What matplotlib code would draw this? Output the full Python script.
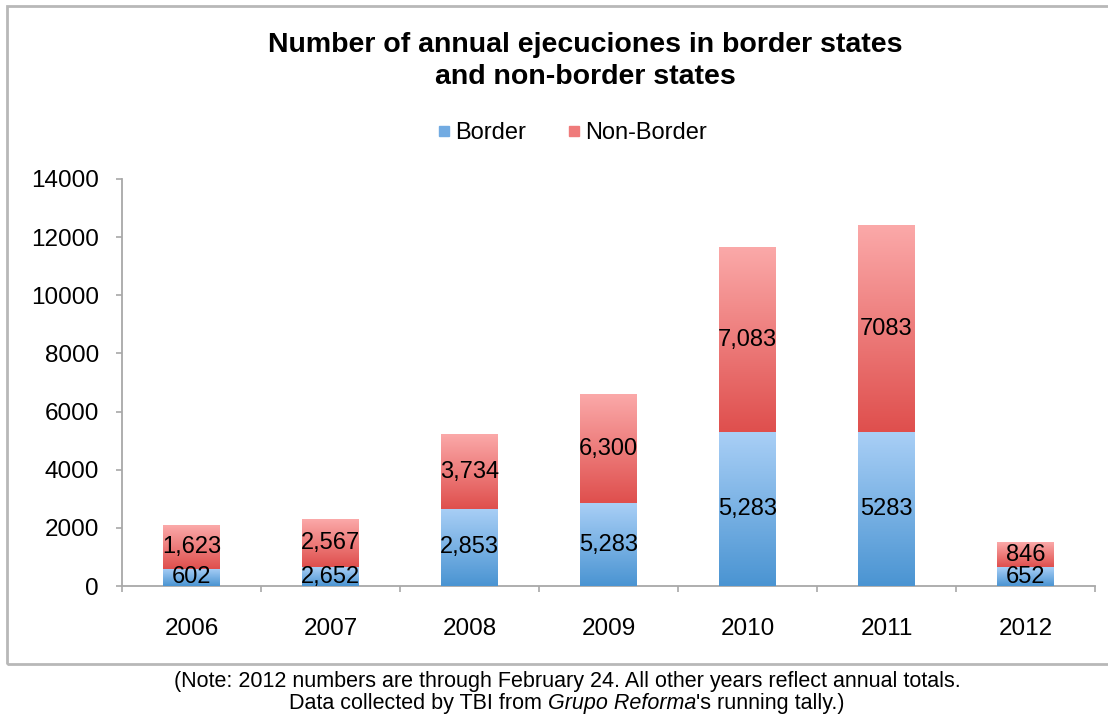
import numpy as np
import matplotlib
matplotlib.use("Agg")
import matplotlib.pyplot as plt
from matplotlib.colors import LinearSegmentedColormap
from matplotlib.lines import Line2D
from matplotlib.patches import Rectangle

years = ["2006", "2007", "2008", "2009", "2010", "2011", "2012"]
# bar heights as drawn in the original (they do not all agree with the printed labels)
border = [602, 652, 2652, 2853, 5283, 5283, 652]
non_border = [1510, 1623, 2567, 3734, 6330, 7110, 846]
# labels as printed on the original
border_labels = ["602", "2,652", "2,853", "5,283", "5,283", "5283", "652"]
non_border_labels = ["1,623", "2,567", "3,734", "6,300", "7,083", "7083", "846"]

plt.rcParams["font.family"] = ["Liberation Sans", "DejaVu Sans"]

fig = plt.figure(figsize=(11.08, 7.15), dpi=100)
ax = fig.add_axes([0.1101, 0.1804, 0.8782, 0.5693])

blue_cm = LinearSegmentedColormap.from_list("b", ["#4a94d2", "#a9cff6"])
red_cm = LinearSegmentedColormap.from_list("r", ["#df4f4d", "#fba9a9"])
grad = np.linspace(0, 1, 256).reshape(-1, 1)

x = np.arange(len(years))
w = 0.41
b1 = ax.bar(x, border, w, color="#7ab2e6", zorder=2)
b2 = ax.bar(x, non_border, w, bottom=border, color="#ee8080", zorder=2)

for bars, cm in ((b1, blue_cm), (b2, red_cm)):
    for r in bars:
        x0, y0 = r.get_xy()
        ax.imshow(grad, extent=[x0, x0 + r.get_width(), y0, y0 + r.get_height()],
                  origin="lower", aspect="auto", cmap=cm, zorder=3)

for i in range(len(years)):
    ax.text(x[i], border[i] / 2, border_labels[i], ha="center", va="center",
            fontsize=17, zorder=4)
    ax.text(x[i], border[i] + non_border[i] / 2, non_border_labels[i],
            ha="center", va="center", fontsize=17, zorder=4)

ax.set_xlim(-0.5, len(years) - 0.5)
ax.set_ylim(0, 14000)
ax.set_yticks(np.arange(0, 14001, 2000))
ax.set_xticks(x)
ax.set_xticklabels(years)
ax.set_xticks(np.arange(-0.5, len(years)), minor=True)
ax.tick_params(axis="x", which="major", length=0, pad=23, labelsize=17.5)
ax.tick_params(axis="x", which="minor", length=4.5, color="#a8a8a8", width=1.2)
ax.tick_params(axis="y", length=4.5, color="#a8a8a8", width=1.2, pad=12, labelsize=17.5)
for s in ("top", "right"):
    ax.spines[s].set_visible(False)
for s in ("left", "bottom"):
    ax.spines[s].set_color("#a8a8a8")
    ax.spines[s].set_linewidth(1.3)

fig.text(0.528, 1 - 61 / 715, "Number of annual ejecuciones in border states\nand non-border states",
         ha="center", va="center", fontsize=20.5, fontweight="bold", linespacing=1.25)

handles = [Line2D([], [], ls="", marker="s", ms=6.5, color="#72abe2"),
           Line2D([], [], ls="", marker="s", ms=6.5, color="#ef7b7b")]
fig.legend(handles, ["Border", "Non-Border"], loc="center", ncol=2,
           bbox_to_anchor=(0.515, 1 - 133 / 715), frameon=False, fontsize=17,
           handletextpad=0.1, columnspacing=1.6, handlelength=0.8)

# chart frame
fig.patches.append(Rectangle((7 / 1108, 1 - 664 / 715), 1.2, 658 / 715,
                             transform=fig.transFigure, fill=False,
                             edgecolor="#b8b8b8", lw=2, clip_on=True))

fig.text(567 / 1108, 1 - 681 / 715,
         "(Note: 2012 numbers are through February 24. All other years reflect annual totals.",
         ha="center", va="center", fontsize=15.5)

# second note line with italic source name
parts = [("Data collected by TBI from ", "normal"), ("Grupo Reforma", "italic"),
         ("'s running tally.)", "normal")]
r = fig.canvas.get_renderer()
txts = [fig.text(0, 1 - 704 / 715, s, ha="left", va="center", fontsize=15.5, style=st)
        for s, st in parts]
widths = [t.get_window_extent(r).width for t in txts]
xpos = 567 - sum(widths) / 2
for t, wd in zip(txts, widths):
    t.set_x(xpos / 1108)
    xpos += wd

fig.savefig("out.png", dpi=100)
